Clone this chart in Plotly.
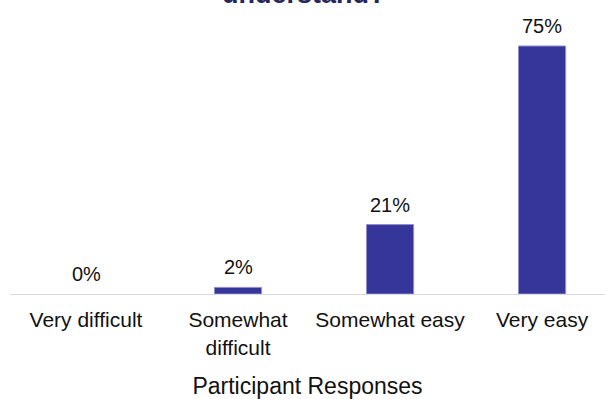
import plotly.graph_objects as go

categories = ["Very difficult", "Somewhat<br>difficult", "Somewhat easy", "Very easy"]
values = [0, 2, 21, 75]
labels = ["0%", "2%", "21%", "75%"]
title_text = "understand?"
x_title = "Participant Responses"

fig = go.Figure(go.Bar(
    x=categories,
    y=values,
    width=0.31,
    marker=dict(color="#35359a",
                line=dict(color="#9090d0", width=[0 if v == 0 else 1 for v in values])),
))

annotations = [dict(
    x=c, y=v, text=t, xref="x", yref="y", yanchor="bottom", yshift=7,
    showarrow=False, font=dict(size=20, color="#111111"),
) for c, v, t in zip(categories, values, labels)]

annotations.append(dict(
    text="<b>" + title_text + "</b>", xref="paper", yref="paper",
    x=(304 - 10) / 595, y=1, yanchor="bottom", yshift=9,
    showarrow=False,
    font=dict(size=27, color="#26265a", family="Liberation Sans, Arial, sans-serif"),
))

fig.update_layout(
    width=605, height=399,
    margin=dict(l=10, r=0, t=20, b=105),
    plot_bgcolor="white", paper_bgcolor="white",
    font=dict(family="Liberation Sans, Arial, sans-serif", size=20, color="#111111"),
    showlegend=False,
    xaxis=dict(
        range=[-0.5, 3.414],
        showline=True, linecolor="#d9d9d9", linewidth=1,
        ticks="outside", ticklen=7, tickcolor="rgba(0,0,0,0)",
        tickfont=dict(size=21),
        title=dict(text=x_title, font=dict(size=23), standoff=20),
        fixedrange=True,
    ),
    yaxis=dict(visible=False, range=[0, 82.86]),
    annotations=annotations,
)

fig.write_html("out.html")
